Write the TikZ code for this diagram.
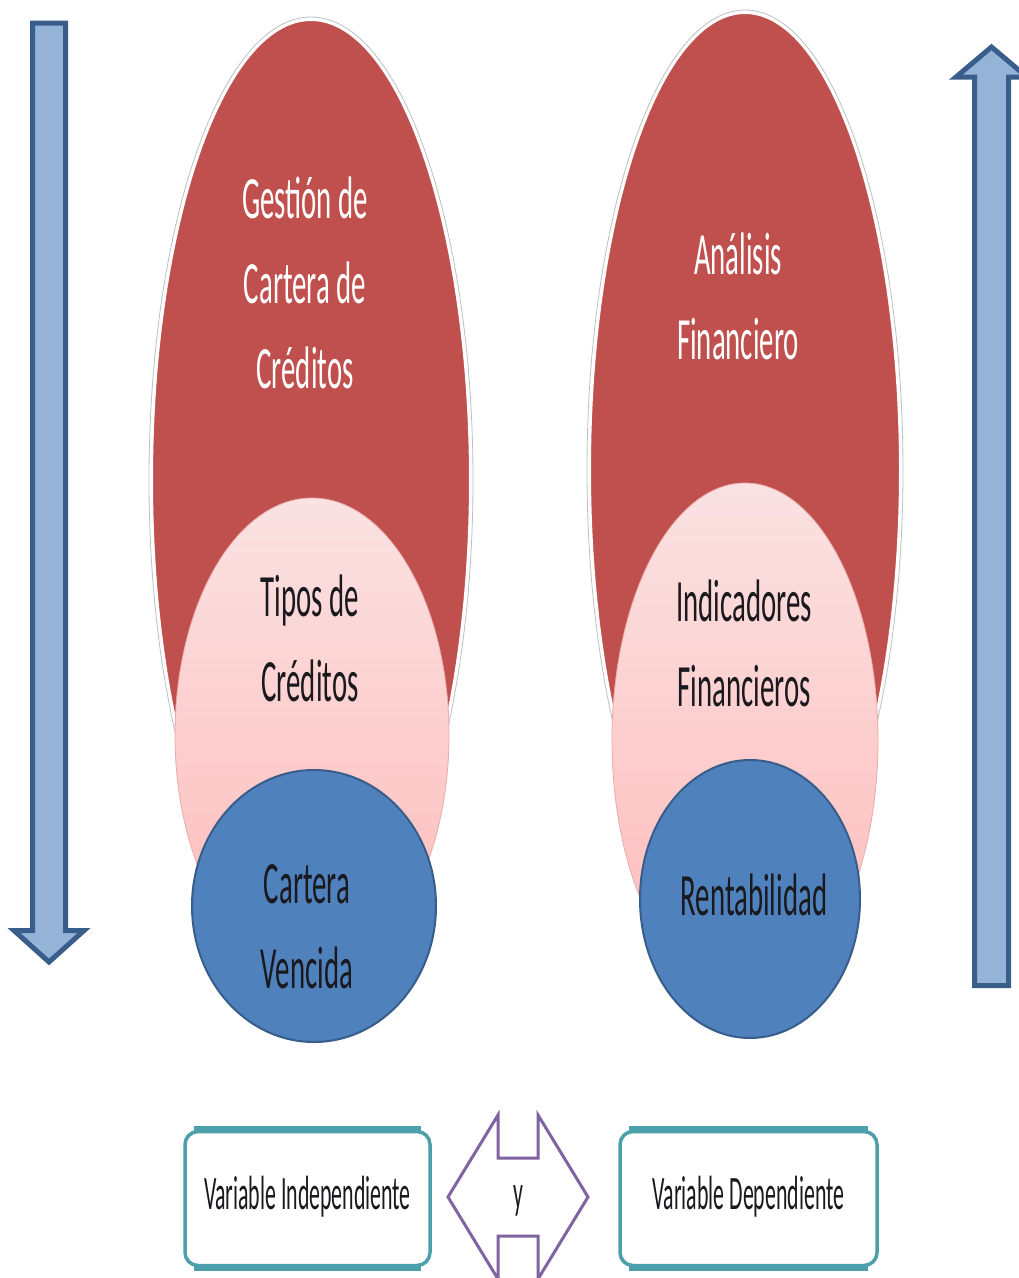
\documentclass[tikz,border=0pt]{standalone}
\usepackage{fontspec}
\usepackage{graphicx}
\setmainfont{Carlito}
\definecolor{redfill}{RGB}{192,80,77}
\definecolor{pinktop}{RGB}{250,226,226}
\definecolor{pinkbot}{RGB}{255,186,186}
\definecolor{pinkedge}{RGB}{235,170,170}
\definecolor{bluefill}{RGB}{79,129,189}
\definecolor{blueedge}{RGB}{56,93,138}
\definecolor{arrowfill}{RGB}{149,179,215}
\definecolor{arrowedge}{RGB}{58,94,140}
\definecolor{tealc}{RGB}{75,160,172}
\definecolor{purplec}{RGB}{128,100,162}
\definecolor{inktext}{RGB}{25,25,30}
\newcommand{\narrow}[2]{\scalebox{#1}[1]{\begin{tabular}{@{}c@{}}#2\end{tabular}}}
\tikzset{
  bigtext/.style={inner sep=0pt, font=\fontsize{60}{85}\selectfont},
  boxtext/.style={inner sep=0pt, font=\fontsize{48}{56}\selectfont, text=inktext},
  redoval/.style={fill=redfill, draw=white, line width=2pt},
  redhalo/.style={draw=black!25, line width=0.8pt},
  pinkoval/.style={top color=pinktop, bottom color=pinkbot, draw=pinkedge, line width=0.8pt},
  blueoval/.style={fill=bluefill, draw=blueedge, line width=2pt},
  bigarrow/.style={fill=arrowfill, draw=arrowedge, line width=5pt, line join=miter},
  varbox/.style={draw=tealc, line width=3.5pt, fill=white, rounded corners=13pt, minimum height=134pt, inner sep=0pt},
  boxband/.style={draw=tealc, line width=7pt},
  linkarrow/.style={draw=purplec, line width=3pt, fill=white, line join=miter}
}
\begin{document}
\begin{tikzpicture}[x=1pt, y=-1pt]
  \useasboundingbox (0,0) rectangle (1019,1278);
  \fill[white] (0,0) rectangle (1019,1278);

  % side arrows
  \draw[bigarrow] (32.5,23) -- (65.5,23) -- (65.5,930.5) -- (84,930.5) -- (49,962)
        -- (14,930.5) -- (32.5,930.5) -- cycle;
  \draw[bigarrow] (974.5,985.5) -- (974.5,77) -- (956,77) -- (991.5,47) -- (1027,77)
        -- (1008.5,77) -- (1008.5,985.5) -- cycle;

  % left group
  \draw[redhalo] (311,480) ellipse [x radius=162pt, y radius=463pt];
  \draw[redoval] (311,480) ellipse [x radius=159pt, y radius=460pt];
  \draw[pinkoval] (312,735) ellipse [x radius=137pt, y radius=237pt];
  \draw[blueoval] (314,906) ellipse [x radius=122pt, y radius=136pt];

  % right group
  \draw[redhalo] (745,470) ellipse [x radius=158pt, y radius=460pt];
  \draw[redoval] (745,470) ellipse [x radius=155pt, y radius=457pt];
  \draw[pinkoval] (745,740) ellipse [x radius=133pt, y radius=257pt];
  \draw[blueoval] (750,899) ellipse [x radius=110pt, y radius=139pt];

  % labels inside the ovals
  \node[bigtext, text=white] (gestion) at (305,286) {\narrow{0.48}{Gestión de\\Cartera de\\Créditos}};
  \node[bigtext, text=white] (analisis) at (738,300) {\narrow{0.48}{Análisis\\Financiero}};
  \node[bigtext, text=inktext] (tipos) at (310,642) {\narrow{0.48}{Tipos de\\Créditos}};
  \node[bigtext, text=inktext] (indicadores) at (744,647) {\narrow{0.48}{Indicadores\\Financieros}};
  \node[bigtext, text=inktext] (vencida) at (307,929) {\narrow{0.48}{Cartera\\Vencida}};
  \node[bigtext, text=inktext] (rentabilidad) at (754,898) {\narrow{0.48}{Rentabilidad}};

  % variable boxes
  \node[varbox, minimum width=245pt] (vi) at (307.5,1198.5) {};
  \node[varbox, minimum width=257pt] (vd) at (748.5,1198.5) {};
  \draw[boxband] ([xshift=11pt]vi.north west) -- ([xshift=-11pt]vi.north east);
  \draw[boxband] ([xshift=11pt]vi.south west) -- ([xshift=-11pt]vi.south east);
  \draw[boxband] ([xshift=11pt]vd.north west) -- ([xshift=-11pt]vd.north east);
  \draw[boxband] ([xshift=11pt]vd.south west) -- ([xshift=-11pt]vd.south east);
  \node[boxtext] (vitext) at (vi) {\narrow{0.455}{Variable Independiente}};
  \node[boxtext] (vdtext) at (vd) {\narrow{0.455}{Variable Dependiente}};

  % two-way link between the boxes
  \draw[linkarrow] (448,1197) -- (498,1115) -- (498,1158) -- (538,1158) -- (538,1115)
        -- (588,1197) -- (538,1279) -- (538,1236) -- (498,1236) -- (498,1279) -- cycle;
  \node[boxtext] (y) at (518,1197) {\narrow{0.455}{y}};
\end{tikzpicture}
\end{document}
